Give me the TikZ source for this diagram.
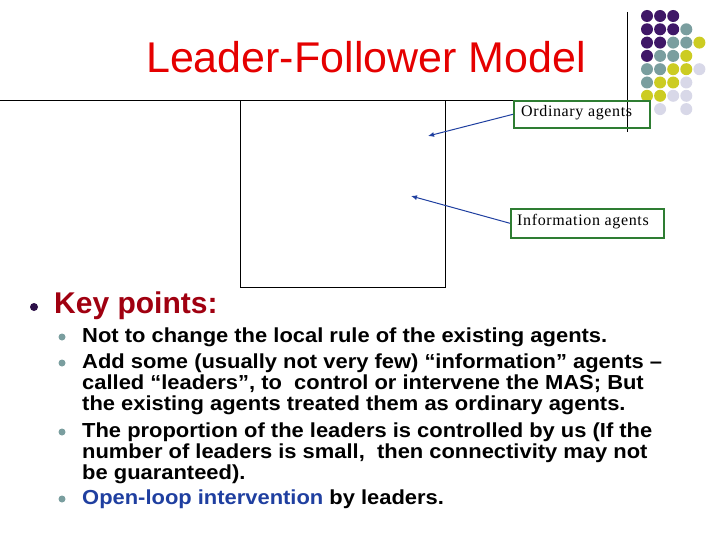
\documentclass[tikz,border=0pt]{standalone}
\usepackage{fontspec}
\usetikzlibrary{arrows.meta}
\setmainfont{Liberation Sans}
\newfontfamily\serifb{Liberation Serif}[LetterSpace=4]
\definecolor{pp}{HTML}{3F1767}
\definecolor{tl}{HTML}{7A9E9F}
\definecolor{yl}{HTML}{CCCC22}
\definecolor{lv}{HTML}{D8D8E8}
\definecolor{kp}{HTML}{A00010}
\definecolor{ab}{HTML}{1F3FA0}
\definecolor{gb}{HTML}{2E7D32}
\newcommand{\wide}[1]{\scalebox{1.08}[1]{#1}}
\begin{document}
\begin{tikzpicture}[x=1pt,y=-1pt,
  arr/.style={draw=ab,line width=1pt,-{Latex[length=6pt,width=5pt]}},
  txt/.style={anchor=west,inner sep=0pt,font=\bfseries\fontsize{20.3}{21}\selectfont},
  sb/.style={circle,fill=tl,inner sep=0pt,minimum size=7pt},
  box/.style={draw=gb,line width=1.6pt,anchor=north west,inner sep=0pt},
  lt/.style={anchor=west,inner sep=0pt,font=\serifb\fontsize{16}{17}\selectfont},
  dotp/.style={circle,fill=pp,minimum size=12pt,inner sep=0pt},
  dott/.style={circle,fill=tl,minimum size=12pt,inner sep=0pt},
  doty/.style={circle,fill=yl,minimum size=12pt,inner sep=0pt},
  dotl/.style={circle,fill=lv,minimum size=12pt,inner sep=0pt}]
\useasboundingbox (0,0) rectangle (720,540);
\foreach \r/\row in {0/{p,p,p,n,n},1/{p,p,p,t,n},2/{p,p,t,t,y},3/{p,t,t,y,n},4/{t,t,y,y,l},5/{t,y,y,l,n},6/{y,y,l,l,n},7/{n,l,n,l,n}}{
  \foreach \c [count=\i from 0] in \row {
    \if\c n\else
      \node[dot\c] (d\r\i) at (647+13.1*\i,16+13.3*\r) {};
    \fi
  }
}
\draw[line width=0.8pt] (0,100) -- (627,100);
\draw[line width=0.6pt] (627,12) -- (627,132);
\node[anchor=center,text=red!90!black,font=\fontsize{43}{44}\selectfont] (title) at (366,57) {Leader-Follower Model};
\draw[line width=0.6pt] (240,100) rectangle (445,287);
\node[box,minimum width=136pt,minimum height=27pt] (ord) at (513,100) {};
\node[lt] (ordt) at (521,113) {Ordinary agents};
\node[box,minimum width=153pt,minimum height=29pt] (inf) at (510,208) {};
\node[lt] (inft) at (517,222) {Information agents};
\coordinate (a1) at (428,136);
\coordinate (a2) at (411,196);
\draw[arr] (ord.west) -- (a1);
\draw[arr] (inf.west) -- (a2);
\node[circle,fill=pp!70!black,inner sep=0pt,minimum size=8pt] (b0) at (34,307) {};
\node[anchor=west,inner sep=0pt,text=kp,font=\bfseries\fontsize{30}{30}\selectfont] (kpt) at (54,306) {Key points:};
\node[sb] (b1) at (62,337) {};
\node[sb] (b2) at (62,363) {};
\node[sb] (b3) at (62,432) {};
\node[sb] (b4) at (62,499) {};
\node[txt] (l1) at (82,337) {\wide{Not to change the local rule of the existing agents.}};
\node[txt] (l2) at (82,363) {\wide{Add some (usually not very few) “information” agents –}};
\node[txt] (l3) at (82,384) {\wide{called “leaders”, to\ \ control or intervene the MAS; But}};
\node[txt] (l4) at (82,405) {\wide{the existing agents treated them as ordinary agents.}};
\node[txt] (l5) at (82,432) {\wide{The proportion of the leaders is controlled by us (If the}};
\node[txt] (l6) at (82,453) {\wide{number of leaders is small,\ \ then connectivity may not}};
\node[txt] (l7) at (82,474) {\wide{be guaranteed).}};
\node[txt] (l8) at (82,499) {\wide{\textcolor{ab}{Open-loop intervention} by leaders.}};
\end{tikzpicture}
\end{document}
